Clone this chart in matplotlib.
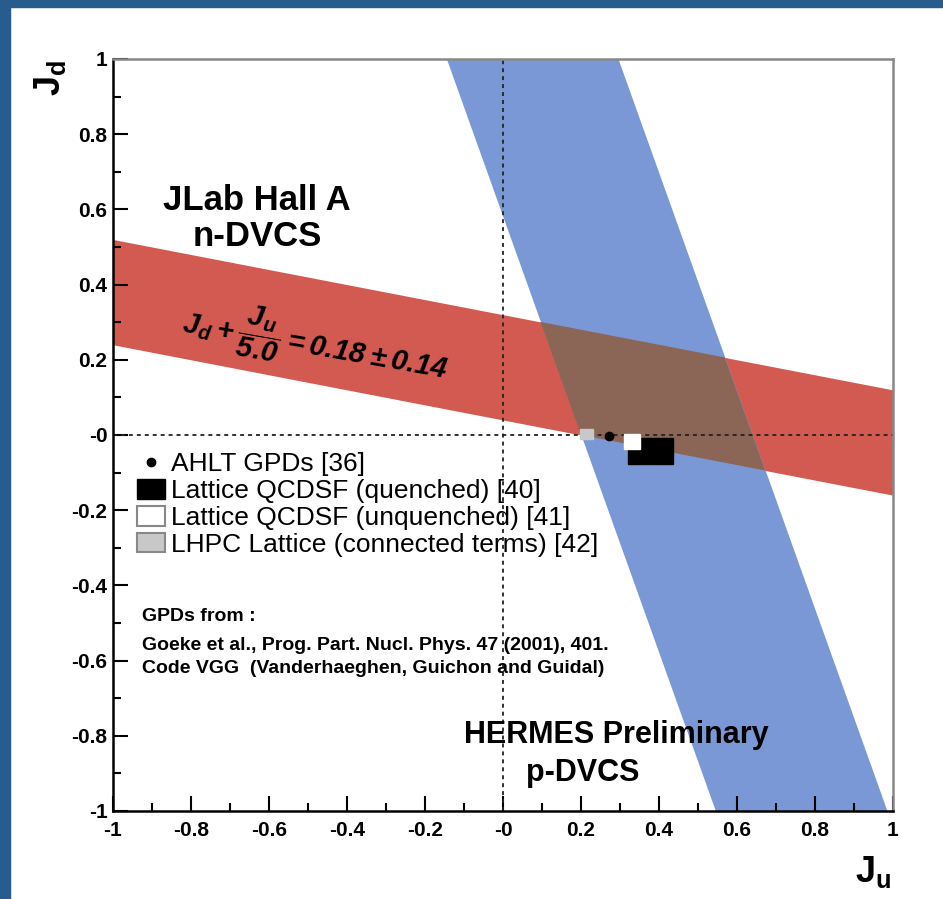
import numpy as np
import matplotlib.pyplot as plt
from matplotlib.patches import Rectangle, Polygon, Patch
from matplotlib.lines import Line2D

plt.rcParams['font.family'] = 'Liberation Sans'
plt.rcParams['mathtext.fontset'] = 'custom'
plt.rcParams['mathtext.rm'] = 'Liberation Sans:italic:bold'
plt.rcParams['mathtext.it'] = 'Liberation Sans:italic:bold'
plt.rcParams['mathtext.bf'] = 'Liberation Sans:bold'

# n-DVCS (JLab Hall A): Jd + Ju/5.0 = 0.18 +- 0.14
ndvcs_div = 5.0
ndvcs_val = 0.18
ndvcs_err = 0.14
# p-DVCS (HERMES preliminary): Ju + Jd/2.9 = 0.42 +- 0.22
pdvcs_div = 2.9
pdvcs_val = 0.42
pdvcs_err = 0.22

# model / lattice points (Ju, Jd, half-width Ju, half-width Jd)
ahlt = [0.272, -0.003]
qcdsf_q = [0.378, -0.043, 0.058, 0.035]
qcdsf_unq = [0.331, -0.017, 0.021, 0.020]
lhpc = [0.214, 0.003, 0.017, 0.013]

legend_labels = ['AHLT GPDs [36]', 'Lattice QCDSF (quenched) [40]',
                 'Lattice QCDSF (unquenched) [41]', 'LHPC Lattice (connected terms) [42]']
ref_lines = ['GPDs from :',
             'Goeke et al., Prog. Part. Nucl. Phys. 47 (2001), 401.',
             'Code VGG  (Vanderhaeghen, Guichon and Guidal)']

ticks = [-1, -0.8, -0.6, -0.4, -0.2, 0, 0.2, 0.4, 0.6, 0.8, 1]
tick_labels = ['-1', '-0.8', '-0.6', '-0.4', '-0.2', '-0', '0.2', '0.4', '0.6', '0.8', '1']

red = '#d35a50'
blue = '#7b98d6'
brown = '#8b6555'
frame_blue = '#285b8e'

W, H = 943, 899
fig = plt.figure(figsize=(W / 100, H / 100), dpi=100)
ax = fig.add_axes([113 / W, 1 - 811 / H, 780 / W, 752 / H])

# bands
ju = np.array([-1.0, 1.0])
ax.fill_between(ju, ndvcs_val - ndvcs_err - ju / ndvcs_div,
                ndvcs_val + ndvcs_err - ju / ndvcs_div, color=red, lw=0, zorder=1)
jd = np.array([-1.0, 1.0])
ax.fill_betweenx(jd, pdvcs_val - pdvcs_err - jd / pdvcs_div,
                 pdvcs_val + pdvcs_err - jd / pdvcs_div, color=blue, lw=0, zorder=1)

# overlap of the two bands
A = np.array([[1 / ndvcs_div, 1.0], [1.0, 1 / pdvcs_div]])
verts = []
for sa, sb in [(-1, -1), (-1, 1), (1, 1), (1, -1)]:
    rhs = [ndvcs_val + sa * ndvcs_err, pdvcs_val + sb * pdvcs_err]
    verts.append(np.linalg.solve(A, rhs))
ax.add_patch(Polygon(verts, closed=True, color=brown, lw=0, zorder=2))

# zero lines
ax.axvline(0, color='#222222', ls=(0, (2.2, 2.2)), lw=1.3, zorder=3)
ax.axhline(0, color='#222222', ls=(0, (2.2, 2.2)), lw=1.3, zorder=3)

# points
ax.add_patch(Rectangle((qcdsf_q[0] - qcdsf_q[2], qcdsf_q[1] - qcdsf_q[3]),
                       2 * qcdsf_q[2], 2 * qcdsf_q[3], color='black', zorder=4))
ax.add_patch(Rectangle((qcdsf_unq[0] - qcdsf_unq[2], qcdsf_unq[1] - qcdsf_unq[3]),
                       2 * qcdsf_unq[2], 2 * qcdsf_unq[3], color='white', zorder=5))
ax.add_patch(Rectangle((lhpc[0] - lhpc[2], lhpc[1] - lhpc[3]),
                       2 * lhpc[2], 2 * lhpc[3], color='#c8c8c8', zorder=5))
ax.plot(ahlt[0], ahlt[1], 'o', color='black', ms=6, zorder=6)

ax.set_xlim(-1, 1)
ax.set_ylim(-1, 1)
ax.set_xticks(ticks)
ax.set_xticklabels(tick_labels, fontsize=15, fontweight='bold')
ax.set_yticks(ticks)
ax.set_yticklabels(tick_labels, fontsize=15, fontweight='bold')
ax.set_xticks(np.arange(-0.9, 1.0, 0.2), minor=True)
ax.set_yticks(np.arange(-0.9, 1.0, 0.2), minor=True)
ax.tick_params(which='major', direction='in', length=11, width=1.5, pad=4)
ax.tick_params(axis='x', which='major', pad=7)
ax.tick_params(which='minor', direction='in', length=5.5, width=1.5)
for s in ['left', 'bottom']:
    ax.spines[s].set_linewidth(1.8)
for s in ['top', 'right']:
    ax.spines[s].set_linewidth(1.8)
    ax.spines[s].set_color('#888888')
ax.set_zorder(1)
for sp in ax.spines.values():
    sp.set_zorder(10)

# legend
handles = [Line2D([], [], marker='o', color='black', ls='', ms=6),
           Patch(facecolor='black', edgecolor='black'),
           Patch(facecolor='white', edgecolor='#888888', lw=1.5),
           Patch(facecolor='#c8c8c8', edgecolor='#888888', lw=1.5)]
ax.legend(handles, legend_labels, loc='upper left', bbox_to_anchor=(0.031, 0.477),
          frameon=False, fontsize=19, borderpad=0, borderaxespad=0,
          handlelength=1.05, handleheight=0.75, handletextpad=0.25,
          labelspacing=0.11)

# annotations
ax.text(-0.631, 0.625, 'JLab Hall A', ha='center', va='center', fontsize=25, fontweight='bold')
ax.text(-0.631, 0.529, 'n-DVCS', ha='center', va='center', fontsize=25, fontweight='bold')
ax.text(0.290, -0.798, 'HERMES Preliminary', ha='center', va='center', fontsize=22, fontweight='bold')
ax.text(0.205, -0.899, 'p-DVCS', ha='center', va='center', fontsize=22, fontweight='bold')
ax.text(-0.48, 0.245, r'$J_{d} + \dfrac{J_{u}}{5.0} = 0.18 \pm 0.14$', ha='center', va='center',
        fontsize=21, rotation=-10, rotation_mode='anchor', zorder=7)
for line, y in zip(ref_lines, [-0.484, -0.559, -0.620]):
    ax.text(-0.926, y, line, ha='left', va='center', fontsize=14, fontweight='bold')

# axis titles
fig.text(50 / W, 1 - 78 / H, r'$\mathbf{J}_{\mathbf{d}}$', rotation=90, ha='center', va='center', fontsize=26)
fig.text(873 / W, 1 - 872 / H, r'$\mathbf{J}_{\mathbf{u}}$', ha='center', va='center', fontsize=26)

# slide frame
fig.patches.append(Rectangle((0, 0), 10 / W, 1, transform=fig.transFigure, color=frame_blue, zorder=-1))
fig.patches.append(Rectangle((0, 1 - 7 / H), 1, 7 / H, transform=fig.transFigure, color=frame_blue, zorder=-1))

fig.savefig('out.png', dpi=100)
